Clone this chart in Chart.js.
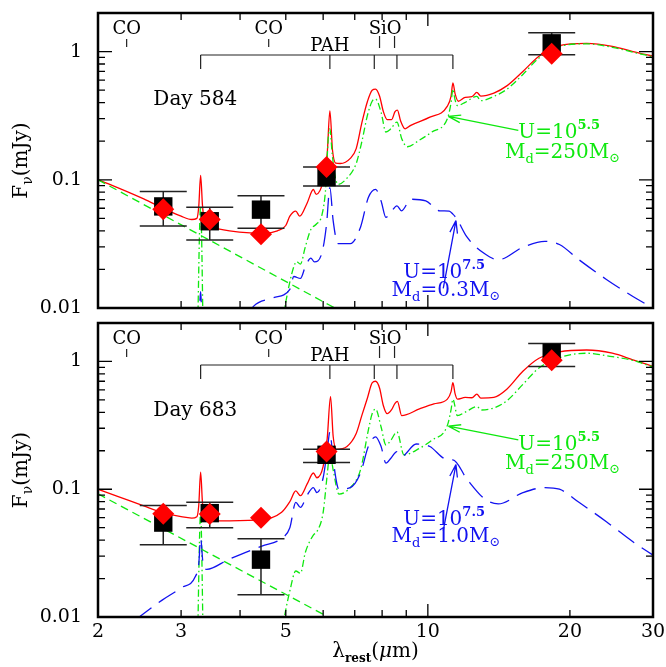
<!DOCTYPE html>
<html>
<head>
<meta charset="utf-8">
<script src="https://cdn.jsdelivr.net/npm/chart.js@4.4.1/dist/chart.umd.min.js"></script>
<style>
  body { margin: 0; background: #fff; width: 666px; height: 667px; position: relative; overflow: hidden; }
  canvas { position: absolute; left: 0; }
  #top { top: 0; }
  #bot { top: 310px; }
</style>
</head>
<body>
<canvas id="top" width="666" height="330"></canvas>
<canvas id="bot" width="666" height="357"></canvas>
<script>
// axis ticks
const xTicks = [2, 3, 4, 5, 6, 7, 8, 9, 10, 20, 30];
const xLabels = [2, 3, 5, 10, 20, 30];
const yTicks = [0.01, 0.02, 0.03, 0.04, 0.05, 0.06, 0.07, 0.08, 0.09,
                0.1, 0.2, 0.3, 0.4, 0.5, 0.6, 0.7, 0.8, 0.9, 1, 2];
const yLabels = [0.01, 0.1, 1];

// rest-frame wavelengths of the photometric bands
const obsWave = [2.75, 3.45, 4.43, 6.1, 18.3];

// Day 584
const d584Obs = [0.062, 0.0475, 0.0585, 0.105, 1.16];
const d584Lo = [0.0437, 0.0339, 0.0418, 0.0895, 0.945];
const d584Hi = [0.081, 0.0612, 0.075, 0.126, 1.405];
const d584Model = [0.0588, 0.049, 0.0376, 0.126, 0.96];
const d584Total = [[2.0,0.100],[2.2,0.087],[2.5,0.071],[2.75,0.060],[3.0,0.052],[3.16,0.049],[3.24,0.050],[3.27,0.062],[3.3,0.108],[3.33,0.063],[3.37,0.046],[3.45,0.043],[3.8,0.040],[4.2,0.0385],[4.5,0.0383],[4.8,0.040],[5.0,0.044],[5.1,0.052],[5.25,0.057],[5.35,0.052],[5.55,0.066],[5.72,0.084],[5.8,0.077],[6.0,0.098],[6.12,0.16],[6.2,0.345],[6.28,0.17],[6.38,0.135],[6.52,0.134],[6.85,0.147],[7.05,0.175],[7.25,0.28],[7.45,0.41],[7.62,0.50],[7.75,0.51],[7.9,0.45],[8.05,0.34],[8.2,0.295],[8.38,0.295],[8.52,0.34],[8.62,0.35],[8.75,0.29],[8.95,0.25],[9.2,0.266],[10.1,0.308],[11.0,0.375],[11.2,0.45],[11.3,0.57],[11.42,0.47],[11.6,0.41],[12.0,0.44],[12.4,0.445],[12.7,0.48],[12.95,0.45],[13.8,0.475],[14.7,0.54],[15.9,0.70],[17.2,0.92],[19.0,1.115],[21.7,1.16],[24.6,1.10],[27.2,1.0],[30,0.92]];
const d584Cool = [[3.24,0.003],[3.3,0.062],[3.36,0.003],[4.8,0.005],[4.98,0.0103],[5.1,0.016],[5.2,0.021],[5.27,0.023],[5.37,0.022],[5.5,0.030],[5.65,0.041],[5.8,0.045],[5.97,0.054],[6.08,0.09],[6.15,0.21],[6.2,0.25],[6.27,0.16],[6.35,0.11],[6.45,0.092],[6.74,0.103],[7.05,0.134],[7.25,0.20],[7.45,0.32],[7.62,0.41],[7.75,0.426],[7.96,0.336],[8.15,0.236],[8.35,0.25],[8.6,0.282],[8.8,0.21],[9.05,0.181],[9.6,0.204],[10.2,0.236],[11.0,0.30],[11.2,0.40],[11.3,0.51],[11.42,0.42],[11.55,0.379],[12.0,0.402],[12.7,0.447],[12.95,0.414],[13.8,0.447],[14.7,0.508],[15.9,0.663],[17.2,0.891],[19.0,1.096],[21.7,1.15],[24.6,1.08],[27.2,0.99],[30,0.91]];
const d584Hot = [[3.26,0.004],[3.3,0.0134],[3.34,0.004],[4.0,0.007],[4.27,0.0103],[4.7,0.012],[5.1,0.014],[5.2,0.0176],[5.37,0.017],[5.5,0.021],[5.65,0.0245],[5.75,0.0229],[5.97,0.0273],[6.1,0.045],[6.2,0.087],[6.3,0.048],[6.45,0.0318],[6.85,0.0318],[7.2,0.0427],[7.48,0.0727],[7.75,0.0842],[7.96,0.0684],[8.15,0.0509],[8.35,0.0558],[8.6,0.0627],[8.8,0.0573],[9.2,0.0705],[9.9,0.0684],[10.6,0.0573],[11.1,0.057],[11.3,0.054],[11.5,0.050],[12.1,0.0358],[13.2,0.0265],[14.1,0.0238],[15.9,0.0298],[17.7,0.0331],[19.0,0.0313],[20.9,0.0238],[23.9,0.0167],[27.2,0.0123],[30,0.010]];
const d584Star = [[2.0,0.100],[6.35,0.010]];

// Day 683
const d683Obs = [0.0548, 0.065, 0.0281, 0.186, 1.17];
const d683Lo = [0.0367, 0.050, 0.0149, 0.162, 0.915];
const d683Hi = [0.0745, 0.079, 0.0409, 0.206, 1.385];
const d683Model = [0.0643, 0.064, 0.0598, 0.197, 1.02];
const d683Total = [[2.0,0.100],[2.2,0.088],[2.5,0.074],[2.73,0.066],[3.0,0.061],[3.16,0.0595],[3.24,0.061],[3.27,0.075],[3.3,0.136],[3.33,0.078],[3.38,0.058],[3.5,0.0565],[3.8,0.0565],[4.45,0.058],[4.9,0.066],[5.1,0.08],[5.25,0.097],[5.37,0.089],[5.55,0.11],[5.72,0.134],[5.82,0.123],[6.0,0.151],[6.12,0.25],[6.22,0.53],[6.3,0.26],[6.4,0.205],[6.74,0.216],[7.05,0.273],[7.25,0.38],[7.45,0.52],[7.62,0.68],[7.75,0.70],[7.9,0.62],[8.05,0.45],[8.2,0.39],[8.38,0.42],[8.52,0.47],[8.62,0.487],[8.8,0.377],[9.6,0.425],[10.3,0.465],[11.0,0.507],[11.2,0.58],[11.3,0.682],[11.42,0.56],[11.55,0.507],[12.0,0.523],[12.4,0.52],[12.7,0.555],[12.95,0.517],[13.8,0.523],[14.7,0.606],[15.9,0.838],[17.2,1.06],[19.0,1.19],[21.7,1.23],[24.6,1.16],[27.2,1.03],[30,0.915]];
const d683Cool = [[3.24,0.003],[3.3,0.065],[3.36,0.003],[4.8,0.005],[4.98,0.0106],[5.1,0.016],[5.25,0.0229],[5.37,0.022],[5.5,0.032],[5.72,0.0438],[5.82,0.0465],[6.0,0.066],[6.12,0.13],[6.2,0.192],[6.3,0.142],[6.48,0.0916],[6.85,0.103],[7.2,0.142],[7.48,0.29],[7.62,0.39],[7.75,0.425],[7.96,0.307],[8.15,0.222],[8.35,0.242],[8.6,0.281],[8.9,0.186],[9.6,0.209],[10.2,0.242],[11.0,0.316],[11.2,0.42],[11.3,0.507],[11.55,0.377],[12.0,0.401],[12.7,0.443],[13.0,0.417],[13.8,0.433],[14.7,0.492],[15.9,0.662],[17.2,0.889],[19.0,1.07],[21.7,1.16],[24.6,1.09],[27.2,1.02],[30,0.905]];
const d683Hot = [[2.4,0.0095],[2.73,0.0135],[3.0,0.0169],[3.22,0.0209],[3.27,0.026],[3.3,0.0413],[3.34,0.026],[3.4,0.0236],[3.78,0.0282],[4.45,0.0359],[4.9,0.0413],[5.1,0.05],[5.25,0.079],[5.37,0.072],[5.55,0.09],[5.72,0.103],[5.82,0.094],[6.0,0.123],[6.12,0.2],[6.2,0.281],[6.3,0.17],[6.48,0.1],[6.85,0.103],[7.2,0.134],[7.48,0.216],[7.75,0.257],[7.96,0.216],[8.15,0.16],[8.35,0.175],[8.6,0.197],[8.8,0.181],[9.45,0.226],[10.1,0.216],[10.8,0.175],[11.1,0.17],[11.3,0.17],[12.1,0.12],[13.2,0.0838],[14.1,0.0767],[15.9,0.094],[17.7,0.103],[19.0,0.1],[20.9,0.079],[23.9,0.0557],[27.2,0.0388],[30,0.0305]];
const d683Star = [[2.0,0.092],[6.15,0.010]];

// feature markers (wavelengths, micron)
const coLines = [2.3, 4.6];
const pahBands = [3.3, 6.2, 7.7, 8.6, 11.3];
const sioBands = [7.9, 8.5];

const FONT = '"DejaVu Serif", "Liberation Serif", serif';
const RED = '#ff0000', GREEN = '#0ee80e', BLUE = '#1212f0';

// draw a run of text pieces: [text, size, dy, style]
function rich(ctx, parts, x, y, align) {
  const font = p => `${p[3] || ''} ${p[1]}px ${FONT}`;
  let w = 0;
  parts.forEach(p => { ctx.font = font(p); w += ctx.measureText(p[0]).width; });
  let cx = align === 'center' ? x - w / 2 : x;
  parts.forEach(p => {
    ctx.font = font(p);
    ctx.fillText(p[0], cx, y + (p[2] || 0));
    cx += ctx.measureText(p[0]).width;
  });
}

function arrow(ctx, x0, y0, x1, y1) {
  const a = Math.atan2(y1 - y0, x1 - x0);
  ctx.beginPath();
  ctx.moveTo(x0, y0); ctx.lineTo(x1, y1);
  [0.3, -0.3].forEach(d => {
    ctx.moveTo(x1, y1);
    ctx.lineTo(x1 - 13 * Math.cos(a + d), y1 - 13 * Math.sin(a + d));
  });
  ctx.stroke();
}

const sedPlugin = {
  id: 'sed',
  beforeDatasetDraw(chart, args) {
    const ds = chart.data.datasets[args.index];
    if (!ds.errLo) return;
    const { ctx } = chart, x = chart.scales.x, y = chart.scales.y;
    ctx.save();
    ctx.strokeStyle = '#222';
    ctx.lineWidth = 1.5;
    ctx.beginPath();
    ds.data.forEach((p, i) => {
      const px = x.getPixelForValue(p.x);
      const lo = y.getPixelForValue(ds.errLo[i]), hi = y.getPixelForValue(ds.errHi[i]);
      ctx.moveTo(px, lo); ctx.lineTo(px, hi);
      ctx.moveTo(px - 23.5, lo); ctx.lineTo(px + 23.5, lo);
      ctx.moveTo(px - 23.5, hi); ctx.lineTo(px + 23.5, hi);
    });
    ctx.stroke();
    ctx.restore();
  },
  afterDraw(chart) {
    const { ctx, chartArea: a } = chart, x = chart.scales.x, y = chart.scales.y;
    const ann = chart.options.plugins.sed;
    ctx.save();
    ctx.strokeStyle = '#000';
    ctx.fillStyle = '#000';

    // inward ticks on all four sides
    ctx.lineWidth = 1.3;
    ctx.beginPath();
    xTicks.forEach(v => {
      const px = x.getPixelForValue(v), len = v === 10 ? 13 : 7;
      ctx.moveTo(px, a.bottom); ctx.lineTo(px, a.bottom - len);
      ctx.moveTo(px, a.top); ctx.lineTo(px, a.top + len);
    });
    yTicks.forEach(v => {
      const py = y.getPixelForValue(v), len = yLabels.includes(v) ? 14 : 7;
      ctx.moveTo(a.left, py); ctx.lineTo(a.left + len, py);
      ctx.moveTo(a.right, py); ctx.lineTo(a.right - len, py);
    });
    ctx.stroke();
    ctx.lineWidth = 2.5;
    ctx.strokeRect(a.left, a.top, a.right - a.left, a.bottom - a.top);

    // CO / PAH / SiO markers
    ctx.lineWidth = 1.2;
    ctx.strokeStyle = '#222';
    ctx.fillStyle = '#000';
    ctx.textBaseline = 'alphabetic';
    ctx.beginPath();
    coLines.forEach(v => {
      const px = x.getPixelForValue(v);
      ctx.moveTo(px, a.top + 26); ctx.lineTo(px, a.top + 34);
    });
    sioBands.forEach(v => {
      const px = x.getPixelForValue(v);
      ctx.moveTo(px, a.top + 23); ctx.lineTo(px, a.top + 35);
    });
    const p0 = x.getPixelForValue(pahBands[0]), p1 = x.getPixelForValue(pahBands[pahBands.length - 1]);
    ctx.moveTo(p0, a.top + 42); ctx.lineTo(p1, a.top + 42);
    pahBands.forEach(v => {
      const px = x.getPixelForValue(v);
      ctx.moveTo(px, a.top + 42); ctx.lineTo(px, a.top + 56);
    });
    ctx.stroke();
    coLines.forEach(v => rich(ctx, [['CO', 18]], x.getPixelForValue(v), a.top + 21, 'center'));
    rich(ctx, [['PAH', 18]], x.getPixelForValue(6.2), a.top + 38, 'center');
    rich(ctx, [['SiO', 18]], x.getPixelForValue(8.12), a.top + 21, 'center');

    // epoch label
    rich(ctx, [[ann.day, 20]], x.getPixelForValue(2.62), y.getPixelForValue(ann.dayY), 'left');

    // component labels and arrows
    ctx.fillStyle = GREEN; ctx.strokeStyle = GREEN; ctx.lineWidth = 1.3;
    arrow(ctx, x.getPixelForValue(15.55), y.getPixelForValue(0.243), x.getPixelForValue(11.05), y.getPixelForValue(0.312));
    rich(ctx, [['U=10', 20], ['5.5', 13, -9, 'bold']], x.getPixelForValue(15.55), y.getPixelForValue(ann.coolY[0]), 'left');
    rich(ctx, [['M', 20], ['d', 13, 5], ['=250M', 20], ['\u2299', 13, 4]], x.getPixelForValue(14.57), y.getPixelForValue(ann.coolY[1]), 'left');

    ctx.fillStyle = BLUE; ctx.strokeStyle = BLUE;
    arrow(ctx, x.getPixelForValue(10.78), y.getPixelForValue(ann.hotArrow[0]), x.getPixelForValue(11.47), y.getPixelForValue(ann.hotArrow[1]));
    rich(ctx, [['U=10', 20], ['7.5', 13, -9, 'bold']], x.getPixelForValue(8.87), y.getPixelForValue(ann.hotY[0]), 'left');
    rich(ctx, [['M', 20], ['d', 13, 5], ['=' + ann.hotMass + 'M', 20], ['\u2299', 13, 4]], x.getPixelForValue(8.38), y.getPixelForValue(ann.hotY[1]), 'left');

    // axis titles
    ctx.fillStyle = '#000';
    ctx.save();
    ctx.translate(27, (a.top + a.bottom) / 2);
    ctx.rotate(-Math.PI / 2);
    rich(ctx, [['F', 20], ['\u03bd', 14, 5], ['(mJy)', 20]], 0, 0, 'center');
    ctx.restore();
    if (ann.xTitle) {
      rich(ctx, [['\u03bb', 20], ['rest', 12, 5, 'bold'], ['(', 20], ['\u03bc', 20, 0, 'italic'], ['m)', 20]],
        (a.left + a.right) / 2, a.bottom + 40, 'center');
    }
    ctx.restore();
  }
};

function pts(list) { return list.map(p => ({ x: p[0], y: p[1] })); }

function makePanel(id, cfg) {
  const curve = (data, color, dash) => ({
    data: pts(data), showLine: true, pointRadius: 0, borderColor: color,
    borderWidth: 1.3, borderDash: dash, cubicInterpolationMode: 'monotone', order: 5
  });
  new Chart(document.getElementById(id), {
    type: 'scatter',
    data: {
      datasets: [
        curve(cfg.star, GREEN, [8, 5]),
        curve(cfg.hot, BLUE, [20, 9]),
        curve(cfg.cool, GREEN, [7, 3, 1.5, 3]),
        curve(cfg.total, RED, []),
        {
          data: obsWave.map((w, i) => ({ x: w, y: cfg.obs[i] })),
          errLo: cfg.lo, errHi: cfg.hi,
          pointStyle: 'rect', pointRadius: 13, backgroundColor: '#000', borderWidth: 0, order: 2
        },
        {
          data: obsWave.map((w, i) => ({ x: w, y: cfg.model[i] })),
          pointStyle: 'rectRot', pointRadius: 11, backgroundColor: RED, borderWidth: 0, order: 1
        }
      ]
    },
    options: {
      responsive: false,
      devicePixelRatio: 1,
      animation: false,
      layout: { padding: { top: cfg.padTop, right: 13, left: 0, bottom: 0 } },
      plugins: {
        legend: { display: false },
        tooltip: { enabled: false },
        sed: cfg.ann
      },
      scales: {
        x: {
          type: 'logarithmic', min: 2, max: 30,
          afterBuildTicks: s => { s.ticks = xTicks.map(v => ({ value: v })); },
          afterFit: s => { s.height = cfg.xHeight; s.paddingLeft = s.paddingRight = 0; },
          grid: { display: false, drawTicks: false },
          border: { display: false },
          ticks: {
            display: cfg.ann.xTitle, autoSkip: false, maxRotation: 0, padding: 4, color: '#000',
            font: { family: FONT, size: 19 },
            callback: v => xLabels.includes(v) ? String(v) : ''
          }
        },
        y: {
          type: 'logarithmic', min: 0.01, max: 2,
          afterBuildTicks: s => { s.ticks = yTicks.map(v => ({ value: v })); },
          afterFit: s => { s.width = 98; s.paddingTop = s.paddingBottom = 0; },
          grid: { display: false, drawTicks: false },
          border: { display: false },
          ticks: {
            autoSkip: false, padding: 16, color: '#000',
            font: { family: FONT, size: 19 },
            callback: v => yLabels.includes(v) ? String(v) : ''
          }
        }
      }
    },
    plugins: [sedPlugin]
  });
}

makePanel('top', {
  obs: d584Obs, lo: d584Lo, hi: d584Hi, model: d584Model,
  total: d584Total, cool: d584Cool, hot: d584Hot, star: d584Star,
  padTop: 9, xHeight: 22,
  ann: { day: 'Day 584', dayY: 0.381, coolY: [0.212, 0.149], hotY: [0.01707, 0.01245],
         hotArrow: [0.0142, 0.048], hotMass: '0.3', xTitle: false }
});

makePanel('bot', {
  obs: d683Obs, lo: d683Lo, hi: d683Hi, model: d683Model,
  total: d683Total, cool: d683Cool, hot: d683Hot, star: d683Star,
  padTop: 7, xHeight: 50,
  ann: { day: 'Day 683', dayY: 0.376, coolY: [0.203, 0.144], hotY: [0.0523, 0.0386],
         hotArrow: [0.0475, 0.156], hotMass: '1.0', xTitle: true }
});
</script>
</body>
</html>
